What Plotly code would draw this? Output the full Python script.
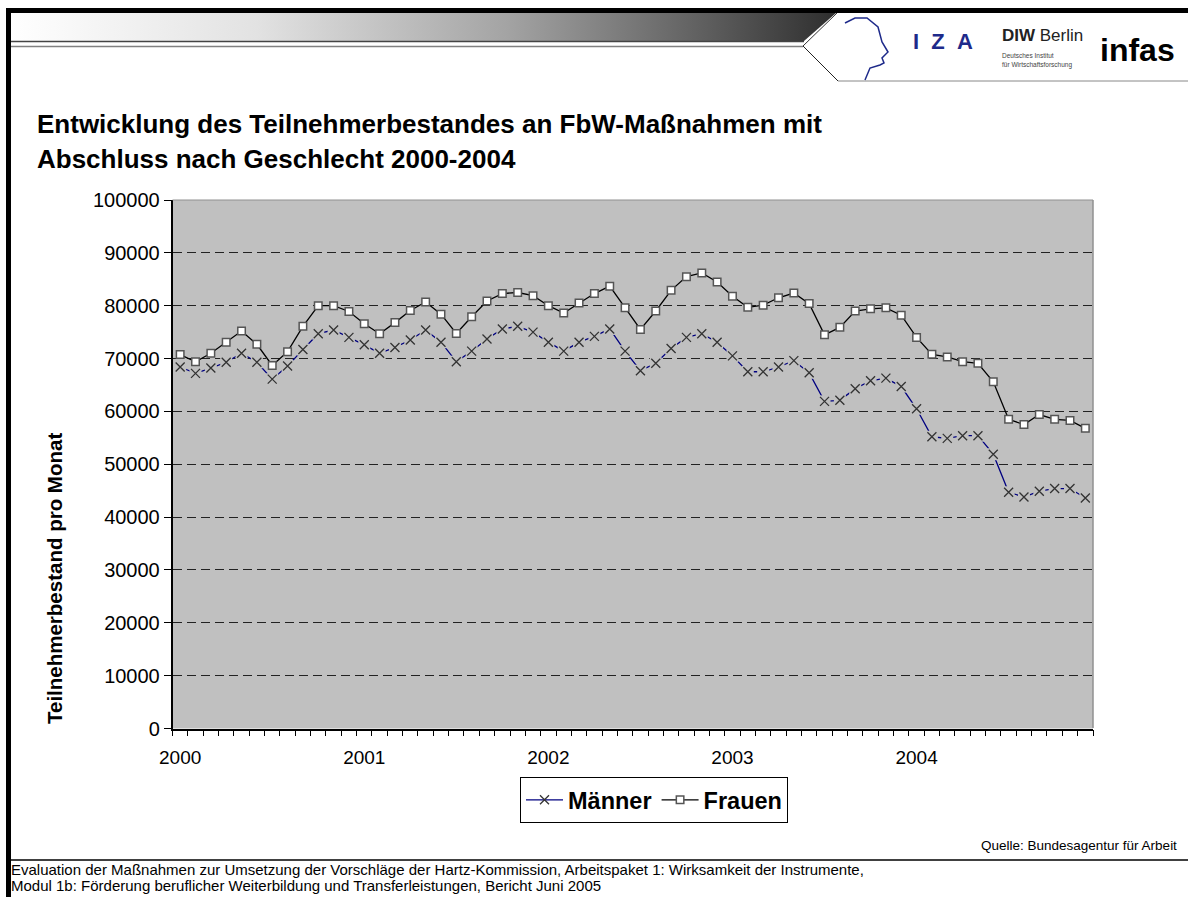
import base64
import plotly.graph_objects as go

W, H = 1188, 897
YEAR_LABELS = ["2000", "2001", "2002", "2003", "2004"]
MONTH_INDEX = list(range(60))
MAENNER = [68400, 67200, 68200, 69300, 71000, 69300, 66100, 68600, 71700, 74700, 75400, 74000,
           72600, 71000, 72100, 73500, 75400, 73100, 69400, 71400, 73700, 75600, 76100, 75000,
           73100, 71400, 73100, 74200, 75600, 71400, 67700, 69100, 71900, 74000, 74700, 73100,
           70500, 67500, 67500, 68400, 69600, 67300, 61900, 62100, 64300, 65800, 66300, 64700,
           60500, 55200, 54900, 55400, 55400, 51900, 44700, 43800, 44900, 45400, 45400, 43600]
FRAUEN = [70750, 69400, 71000, 73100, 75200, 72700, 68700, 71300, 76100, 80000, 80000, 78900,
          76600, 74700, 76800, 79100, 80700, 78400, 74750, 77900, 80900, 82300, 82500, 81900,
          80000, 78600, 80500, 82300, 83700, 79600, 75500, 79000, 82900, 85500, 86200, 84500,
          81800, 79700, 80100, 81500, 82400, 80400, 74500, 75900, 79000, 79400, 79600, 78200,
          74000, 70800, 70300, 69400, 69100, 65600, 58500, 57500, 59400, 58500, 58300, 56800]
Y_TICKS = list(range(0, 100001, 10000))

FONT = "Liberation Sans, Arial, sans-serif"


def fx(x):
    return x / W


def fy(y):
    return 1 - y / H


def line(x0, y0, x1, y1, color, width):
    return dict(type="line", xref="paper", yref="paper", x0=fx(x0), y0=fy(y0), x1=fx(x1), y1=fy(y1),
                line=dict(color=color, width=width), layer="above")


def rect(x0, y0, x1, y1, color):
    return dict(type="rect", xref="paper", yref="paper", x0=fx(x0), y0=fy(y0), x1=fx(x1), y1=fy(y1),
                fillcolor=color, line=dict(width=0), layer="above")


def note(x, y, text, size, color="#000000", anchor="left", bold=False, angle=0, family=FONT):
    return dict(xref="paper", yref="paper", x=fx(x), y=fy(y), text=f"<b>{text}</b>" if bold else text,
                showarrow=False, xanchor=anchor, yanchor="middle", align="left", textangle=angle,
                font=dict(size=size, color=color, family=family))


# x values with gaps: the marker trace shows the crosses only, but keeps a line in its legend key
gap_x, gap_y = [], []
for m, v in zip(MONTH_INDEX, MAENNER):
    gap_x += [m, None]
    gap_y += [v, None]

fig = go.Figure()
fig.add_trace(go.Scatter(x=MONTH_INDEX, y=MAENNER, mode="lines+markers", showlegend=False, hoverinfo="skip",
                         line=dict(color="#000080", width=1.3),
                         marker=dict(symbol="square", size=12, color="#c0c0c0", line=dict(width=0))))
fig.add_trace(go.Scatter(x=gap_x, y=gap_y, mode="lines+markers", name="Männer", connectgaps=False,
                         line=dict(color="#000080", width=1.3),
                         marker=dict(symbol="x-thin", size=9, color="#333333", line=dict(color="#333333", width=1.3))))
fig.add_trace(go.Scatter(x=MONTH_INDEX, y=FRAUEN, mode="lines+markers", name="Frauen",
                         line=dict(color="#000000", width=1.3),
                         marker=dict(symbol="square", size=7.5, color="#ffffff", line=dict(color="#555555", width=1.5))))

svg = ('<svg xmlns="http://www.w3.org/2000/svg" width="830" height="28" viewBox="0 0 830 28">'
       '<defs><linearGradient id="g" x1="0" x2="1" y1="0" y2="0">'
       '<stop offset="0" stop-color="#ffffff"/><stop offset="0.3" stop-color="#e2e2e2"/>'
       '<stop offset="0.6" stop-color="#a4a4a4"/><stop offset="0.85" stop-color="#5c5c5c"/>'
       '<stop offset="1" stop-color="#2e2e2e"/></linearGradient></defs>'
       '<polygon points="0,0 826,0 794,28 0,28" fill="url(#g)"/></svg>')
gradient = "data:image/svg+xml;base64," + base64.b64encode(svg.encode()).decode()

head = [(845, 23), (855, 18), (867, 18), (878, 27), (882, 42), (888, 52), (882, 58), (884, 63), (880, 65), (870, 68), (865, 80)]
head_path = "M " + " L ".join(f"{fx(a):.5f},{fy(b):.5f}" for a, b in head)

fig.update_layout(
    width=W, height=H, autosize=False,
    margin=dict(l=0, r=0, t=0, b=0, pad=0, autoexpand=False),
    paper_bgcolor="#ffffff", plot_bgcolor="#c0c0c0",
    font=dict(family=FONT, color="#000000"),
    showlegend=True,
    legend=dict(orientation="h", xref="paper", yref="paper", x=fx(520), y=fy(777), xanchor="left", yanchor="top",
                bgcolor="#ffffff", bordercolor="#000000", borderwidth=1,
                font=dict(size=23.5, family=FONT, weight="bold"), itemwidth=37, tracegroupgap=0),
    xaxis=dict(domain=[fx(172.5), fx(1093)], range=[-0.5, 59.5], showgrid=False, zeroline=False,
               tickmode="array", tickvals=MONTH_INDEX[::12], ticktext=YEAR_LABELS, ticks="", ticklen=0,
               ticklabelstandoff=11,
               tickfont=dict(size=19, family=FONT), showline=True, linecolor="#000000", linewidth=1.5,
               minor=dict(tickmode="array", tickvals=[m - 0.5 for m in MONTH_INDEX] + [59.5], ticks="outside",
                          ticklen=6, tickcolor="#000000", tickwidth=1, showgrid=False)),
    yaxis=dict(domain=[fy(728.5), fy(200)], range=[0, 100000], tickmode="array", tickvals=Y_TICKS,
               tickformat="d",
               ticks="outside", ticklen=7, tickcolor="#000000", tickwidth=1, tickfont=dict(size=20, family=FONT),
               showline=True, linecolor="#000000", linewidth=1.5, zeroline=False,
               showgrid=True, gridcolor="#222222", gridwidth=1, griddash="9px,5px"),
    images=[dict(source=gradient, xref="paper", yref="paper", x=fx(10), y=fy(13), sizex=830 / W, sizey=28 / H,
                 xanchor="left", yanchor="top", sizing="stretch", layer="below")],
    shapes=[
        # frame and header
        rect(6, 8, W, 13, "#000000"),
        rect(6, 8, 11, H, "#000000"),
        line(11, 41.5, 804, 41.5, "#444444", 1.5),
        line(11, 46.5, 803, 46.5, "#808080", 1.5),
        line(837, 13, 803, 46, "#333333", 1),
        line(803, 46, 838, 81, "#222222", 1),
        line(838, 81, 1188, 81, "#888888", 1),
        line(10, 860, W, 860, "#000000", 1.5),
        # plot edges
        line(172.5, 200, 1093, 200, "#909090", 1),
        line(1093, 200, 1093, 728, "#909090", 1.5),
        # head profile in the logo
        dict(type="path", xref="paper", yref="paper", path=head_path, line=dict(color="#1e2a8a", width=1.5), layer="above"),
    ],
    annotations=[
        note(34.5, 124, "Entwicklung des Teilnehmerbestandes an FbW-Maßnahmen mit", 26, bold=True),
        note(34.5, 159, "Abschluss nach Geschlecht 2000-2004", 26, bold=True),
        note(54, 579, "Teilnehmerbestand pro Monat", 20.5, bold=True, angle=-90, anchor="center"),
        note(1179, 845, "Quelle: Bundesagentur für Arbeit", 13.5, anchor="right"),
        note(9, 869, "Evaluation der Maßnahmen zur Umsetzung der Vorschläge der Hartz-Kommission, Arbeitspaket 1: Wirksamkeit der Instrumente,", 15),
        note(9, 885, "Modul 1b: Förderung beruflicher Weiterbildung und Transferleistungen, Bericht Juni 2005", 15),
        note(911, 42, "I\u00a0\u00a0Z\u00a0\u00a0A", 22, color="#1e2a8a", bold=True),
        note(1000, 35, "<b>DIW</b> Berlin", 17, color="#222222"),
        note(1000, 56, "Deutsches Institut", 6.5, color="#444444"),
        note(1000, 65, "für Wirtschaftsforschung", 6.5, color="#444444"),
        note(1098, 50, "infas", 32, bold=True),
    ],
)

fig.write_html("out.html", config={"displayModeBar": False},
               post_script="document.body.style.margin='0';document.body.style.overflow='hidden';")
